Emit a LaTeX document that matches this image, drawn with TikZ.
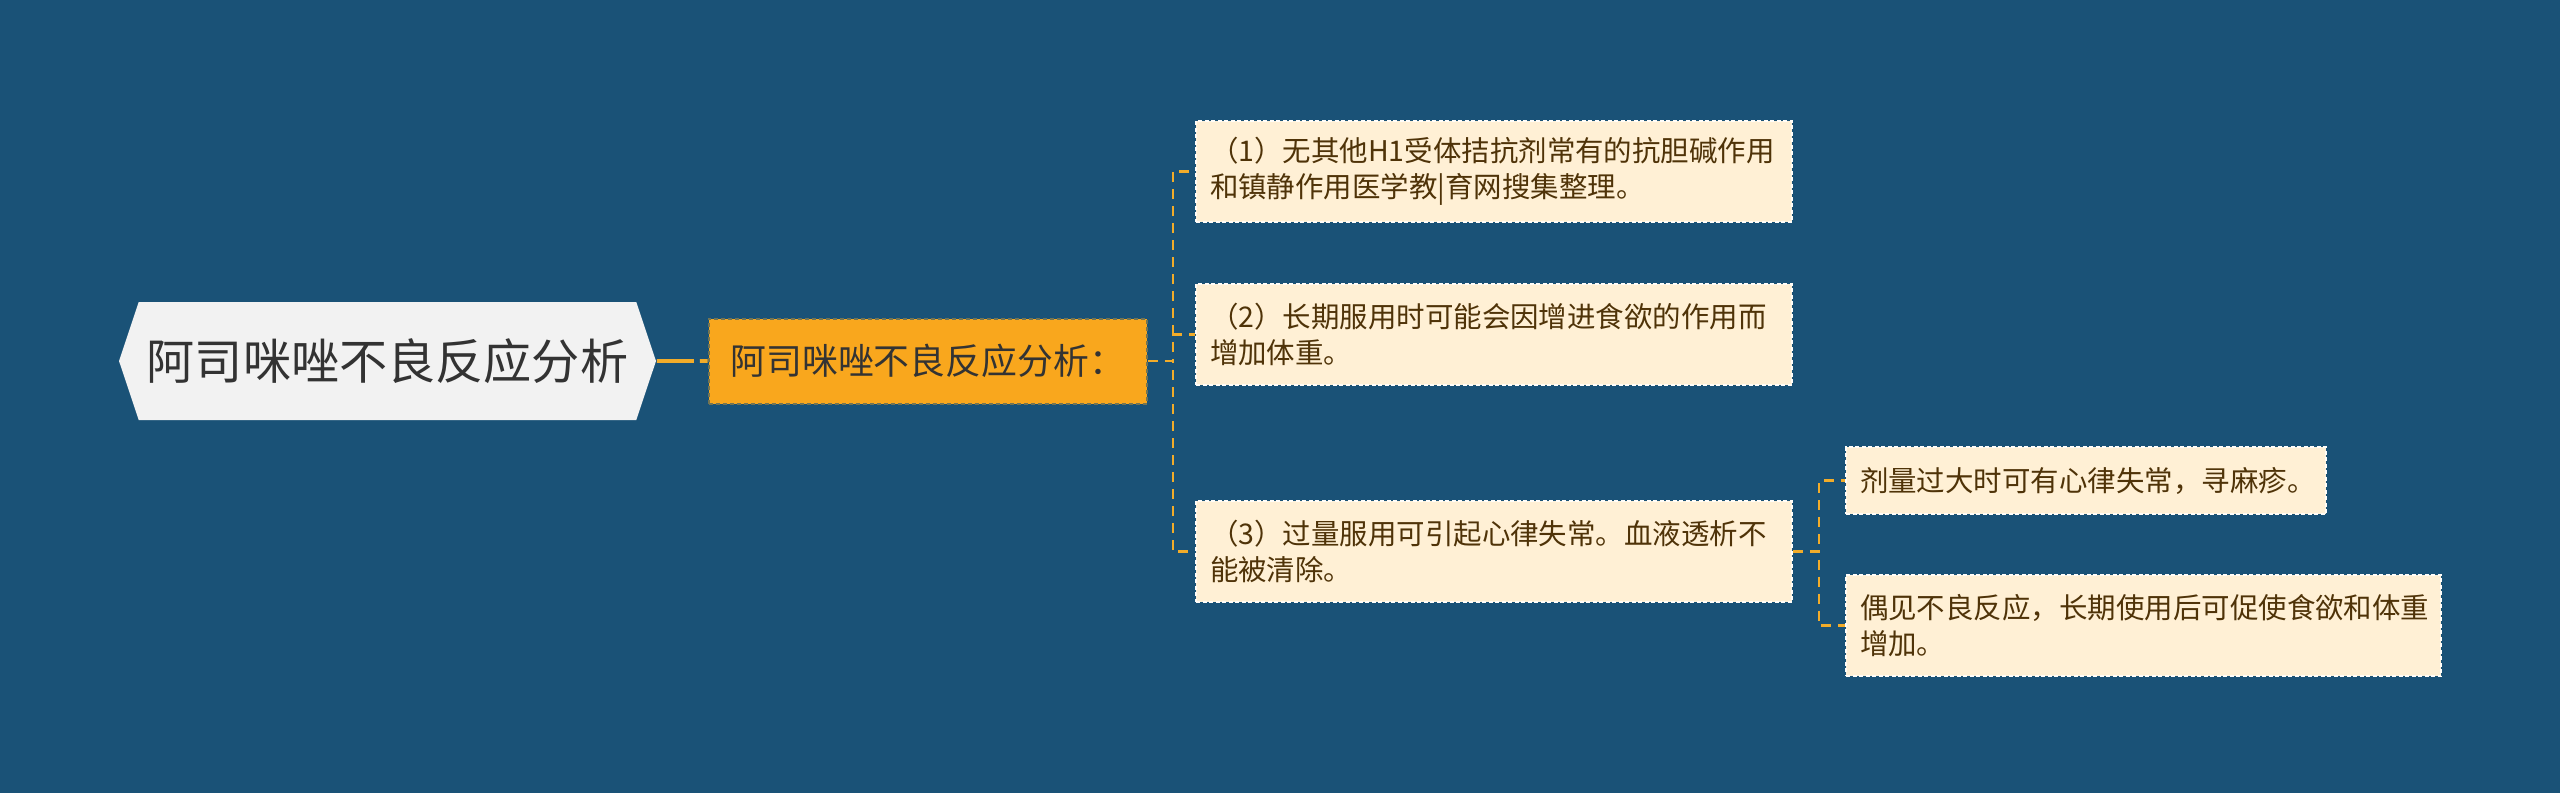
\documentclass[tikz,border=0pt]{standalone}
\usepackage{fontspec}
\newfontfamily\cjk{Noto Sans CJK SC}
\usepackage{tikz}
\usetikzlibrary{shapes,arrows,backgrounds,positioning}
\definecolor{mapbg}{HTML}{1A5277}
\definecolor{rootfill}{HTML}{F2F2F2}
\definecolor{subfill}{HTML}{F9A71D}
\definecolor{leaffill}{HTML}{FFF0D5}
\definecolor{leafink}{HTML}{4F3308}
\definecolor{linkcol}{HTML}{F2AC2A}
\tikzset{
  mapnode/.style = {align=left, inner sep=0pt, font=\cjk},
  rootnode/.style = {mapnode, shape=signal, signal to=west and east,
    signal pointer angle=143, fill=rootfill, text=black!80,
    font=\cjk\fontsize{13.7}{16}\selectfont,
    minimum width=53.7mm, minimum height=11.8mm},% hexagon
  subnode/.style = {mapnode, rectangle, fill=subfill, text=black!80,
    draw=mapbg!60!subfill, dash pattern=on 0.4mm off 0.3mm, line width=0.2mm,
    font=\cjk\fontsize{10.2}{12}\selectfont,
    minimum width=43.8mm, minimum height=8.5mm},% orange box
  leaf/.style = {mapnode, rectangle, fill=leaffill, text=leafink,
    draw=white!85!leaffill, dash pattern=on 0.4mm off 0.25mm, line width=0.2mm,
    font=\cjk\fontsize{8.1}{10.2}\selectfont,
    inner xsep=1.4mm, text width=56.8mm, minimum height=10.1mm},% cream box
  trunk/.style = {draw=linkcol, line width=0.38mm, dash pattern=on 3.7mm off 0.6mm},
  branch/.style = {draw=linkcol, line width=0.25mm, dash pattern=on 1mm off 0.7mm}
}
\begin{document}
\begin{tikzpicture}
        \fill[mapbg] (0,0) rectangle (256mm,-79.3mm);
        \useasboundingbox (0,0) rectangle (256mm,-79.3mm);

        \node [rootnode](root) at (38.75mm,-36.1mm){阿司咪唑不良反应分析};
        \node [subnode, right= 5.1mm of root](sub){阿司咪唑不良反应分析：};

        \node [leaf](c1) at (149.4mm,-17.15mm){（1）无其他H1受体拮抗剂常有的抗胆碱作用\\和镇静作用医学教|育网搜集整理。};
        \node [leaf, below= 6mm of c1](c2){（2）长期服用时可能会因增进食欲的作用而\\增加体重。};
        \node [leaf, below= 11.4mm of c2](c3){（3）过量服用可引起心律失常。血液透析不\\能被清除。};

        \node [leaf, text width=45.2mm, minimum height=6.7mm, right= 5.2mm of c3, yshift=7.1mm](g1){剂量过大时可有心律失常，寻麻疹。};
        \node [leaf, text width=56.7mm, below= 5.9mm of g1.south west, anchor=north west](g2){偶见不良反应，长期使用后可促使食欲和体重\\增加。};

        \draw [trunk] (root) -- (sub);
        \draw [branch] (sub.east) -- ++(2.5mm,0) |- (c1.west);
        \draw [branch] (sub.east) -- ++(2.5mm,0) |- (c2.west);
        \draw [branch] (sub.east) -- ++(2.5mm,0) |- (c3.west);
        \draw [branch] (c3.east) -- ++(2.6mm,0) |- (g1.west);
        \draw [branch] (c3.east) -- ++(2.6mm,0) |- (g2.west);

\end{tikzpicture}
\end{document}
